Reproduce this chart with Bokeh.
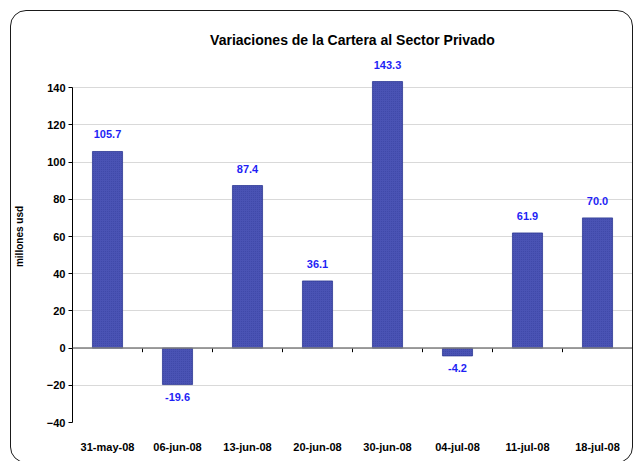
from bokeh.plotting import figure
from bokeh.models import (ColumnDataSource, Span, FixedTicker, Range1d, Label,
                          InlineStyleSheet)
from bokeh.embed import file_html
from bokeh.resources import INLINE

dates = ["31-may-08", "06-jun-08", "13-jun-08", "20-jun-08",
         "30-jun-08", "04-jul-08", "11-jul-08", "18-jul-08"]
values = [105.7, -19.6, 87.4, 36.1, 143.3, -4.2, 61.9, 70.0]
y_ticks = [-40, -20, 0, 20, 40, 60, 80, 100, 120, 140]

n = len(dates)
xs = list(range(n))
labels = [f"{v:.1f}" for v in values]

src = ColumnDataSource(dict(x=xs, top=values, lab=labels))
src_pos = ColumnDataSource(dict(x=[x for x, v in zip(xs, values) if v >= 0],
                                y=[v for v in values if v >= 0],
                                lab=[l for l, v in zip(labels, values) if v >= 0]))
src_neg = ColumnDataSource(dict(x=[x for x, v in zip(xs, values) if v < 0],
                                y=[v for v in values if v < 0],
                                lab=[l for l, v in zip(labels, values) if v < 0]))

FONT = "Liberation Sans"

p = figure(width=633, height=461, output_backend="svg", toolbar_location=None,
           x_range=Range1d(-0.5, n - 0.5), y_range=Range1d(-40, 160),
           min_border_left=72, min_border_right=1, min_border_top=50,
           min_border_bottom=39)
p.stylesheets = [InlineStyleSheet(css="""
:host { position: relative; }
:host::after {
  content: ""; position: absolute; left: 10px; top: 10px; right: 0px;
  bottom: -2px; border: 1.4px solid #1a1a1a; border-radius: 16px;
  pointer-events: none; box-sizing: border-box;
}
""")]
p.outline_line_color = None
p.background_fill_color = "white"
p.border_fill_color = "white"

p.title.text = "Variaciones de la Cartera al Sector Privado"
p.title.align = "center"
p.title.text_font = FONT
p.title.text_font_size = "14px"
p.title.text_font_style = "bold"
p.title.text_color = "black"
p.title.standoff = 5

# grid
p.xgrid.visible = False
p.ygrid.ticker = FixedTicker(ticks=y_ticks)
p.ygrid.grid_line_color = "#D9D9D9"
p.ygrid.grid_line_width = 1
p.ygrid.bounds = (y_ticks[0], y_ticks[-1])

# y axis
yax = p.yaxis[0]
yax.ticker = FixedTicker(ticks=y_ticks)
yax.bounds = (y_ticks[0], y_ticks[-1])
yax.axis_line_color = "black"
yax.axis_line_width = 1
yax.major_tick_line_color = "black"
yax.major_tick_out = 4
yax.major_tick_in = 0
yax.minor_tick_line_color = None
yax.major_label_text_font = FONT
yax.major_label_text_font_size = "11px"
yax.major_label_text_font_style = "bold"
yax.major_label_text_color = "black"
yax.major_label_standoff = 3
yax.axis_label = "millones usd"
yax.axis_label_text_font = FONT
yax.axis_label_text_font_size = "10px"
yax.axis_label_text_font_style = "bold"
yax.axis_label_text_color = "black"
yax.axis_label_standoff = 19

# x axis: labels only
xax = p.xaxis[0]
xax.ticker = FixedTicker(ticks=xs)
xax.major_label_overrides = {i: d for i, d in zip(xs, dates)}
xax.axis_line_color = None
xax.major_tick_line_color = None
xax.minor_tick_line_color = None
xax.major_label_text_font = FONT
xax.major_label_text_font_size = "11px"
xax.major_label_text_font_style = "bold"
xax.major_label_text_color = "black"
xax.major_label_standoff = 12

# bars
p.vbar(x="x", top="top", bottom=0, width=0.43, source=src,
       fill_color="#4A53B4", line_color="#2F3A94", line_width=0.8,
       hatch_pattern="dot", hatch_color="#2E3896", hatch_alpha=0.5,
       hatch_scale=2, hatch_weight=1)

# zero line and category ticks
p.add_layout(Span(location=0, dimension="width", line_color="#7F7F7F",
                  line_width=1.5))
bounds_x = [i + 0.5 for i in xs]
p.segment(x0=bounds_x, x1=bounds_x, y0=[0] * n, y1=[-2.2] * n,
          line_color="black", line_width=1)

# value labels
p.text(x="x", y="y", text="lab", source=src_pos, text_align="center",
       text_baseline="bottom", y_offset=-13, text_color="#1F1FF5",
       text_font={"value": FONT}, text_font_size="11px",
       text_font_style="bold")
p.text(x="x", y="y", text="lab", source=src_neg, text_align="center",
       text_baseline="top", y_offset=8, text_color="#1F1FF5",
       text_font={"value": FONT}, text_font_size="11px",
       text_font_style="bold")

# cut-off page heading above the chart box (as in the reference)
p.add_layout(Label(x=3.13, y=184.6, text="Gráfico N° 6", text_align="center",
                   text_baseline="alphabetic", text_font=FONT,
                   text_font_size="22px", text_color="#1F3A6E"))

open("out.html", "w").write(file_html(p, INLINE))
